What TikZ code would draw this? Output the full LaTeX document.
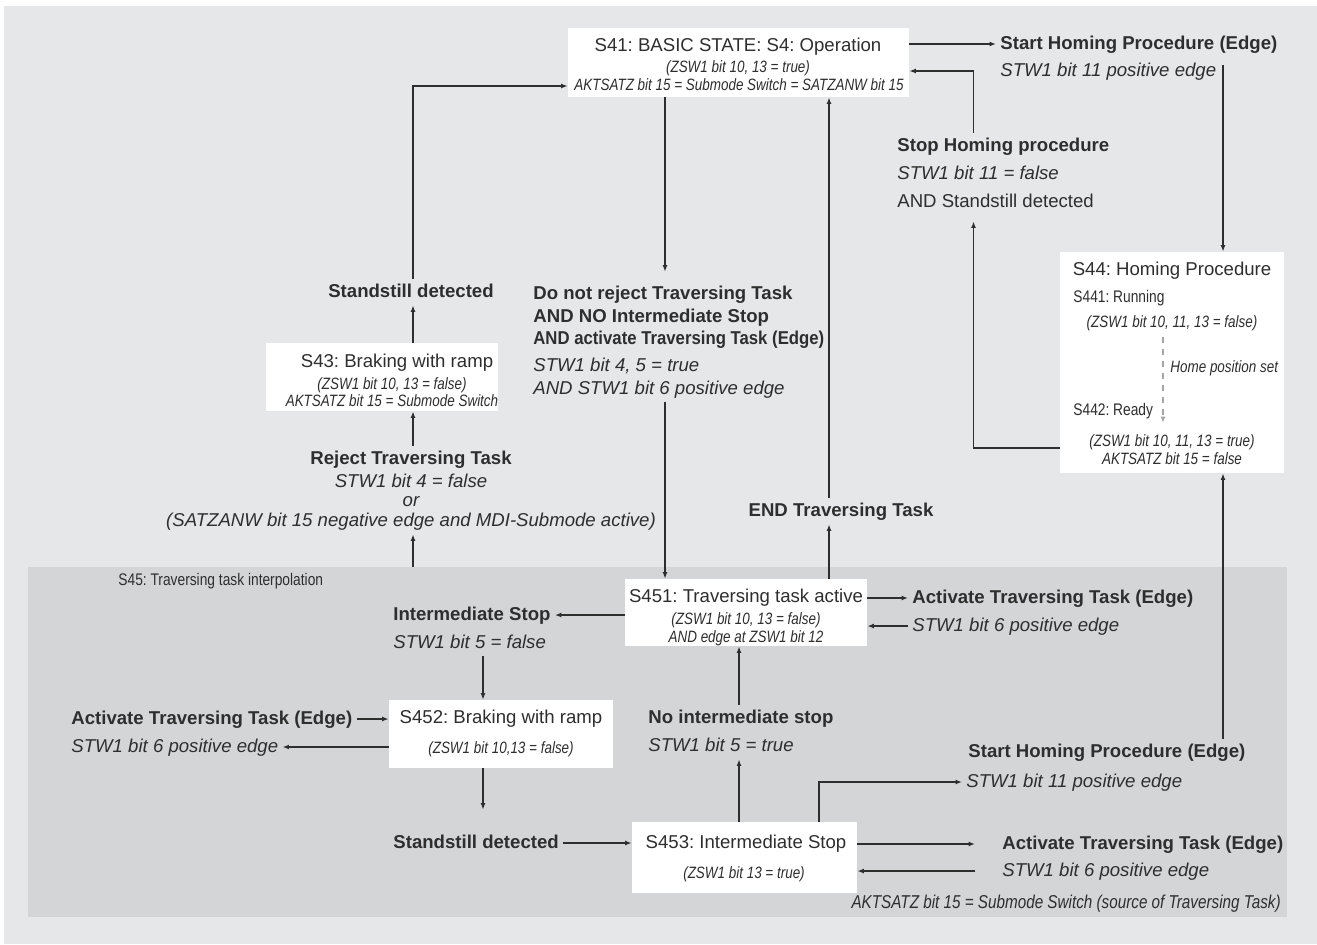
\documentclass[tikz,border=0pt]{standalone}
\usepackage{fontspec}
\setmainfont{Liberation Sans}
\newfontfamily\narrowfont[FakeStretch=0.82]{Liberation Sans}
\newfontfamily\semifont[FakeStretch=0.9]{Liberation Sans}
\usetikzlibrary{arrows.meta}
\definecolor{bgout}{HTML}{E6E7E9}
\definecolor{bgin}{HTML}{D4D5D7}
\definecolor{ink}{HTML}{2E2E2E}
\frenchspacing

\begin{document}
\begin{tikzpicture}[x=0.5pt, y=-0.5pt, >={Latex[length=3.2pt,width=2.4pt]},
  box/.style={fill=white, inner sep=0pt},
  ttl/.style={font=\fontsize{9.3}{11}\selectfont, text=ink, inner sep=2pt},
  lbl/.style={font=\bfseries\fontsize{9.3}{11}\selectfont, text=ink, inner sep=2pt, text height=7pt, text depth=2pt},
  cnd/.style={font=\itshape\fontsize{9.3}{11}\selectfont, text=ink, inner sep=2pt, text height=7pt, text depth=2pt},
  txt/.style={font=\fontsize{9.3}{11}\selectfont, text=ink, inner sep=2pt, text height=7pt, text depth=2pt},
  sml/.style={font=\narrowfont\itshape\fontsize{8.2}{10}\selectfont, text=ink, inner sep=1pt, text height=6pt, text depth=1.6pt},
  nrw/.style={font=\narrowfont\fontsize{8.4}{10}\selectfont, text=ink, inner sep=1pt, text height=6pt, text depth=1.6pt},
  wire/.style={draw=ink, line width=0.6pt},
  dsh/.style={draw=gray!70, line width=0.6pt, dash pattern=on 3pt off 3pt}]
\useasboundingbox (0,0) rectangle (1317,944);
\fill[bgout] (4,6) rectangle (1317,944);
% S45 panel
\node[fill=bgin, inner sep=0pt, minimum width=629.5pt, minimum height=175pt] (s45) at (657.5,742) {};
\node[nrw, anchor=west] (s45t) at (116,581) {S45: Traversing task interpolation};
% column positions of the vertical connectors
\coordinate (cL) at (413,0);
\coordinate (cD) at (665,0);
\coordinate (cU) at (829,0);
\coordinate (cH) at (973.5,0);
\coordinate (cR) at (1223,0);
\coordinate (cS) at (1163,0);
\coordinate (cI) at (483,0);
\coordinate (cN) at (739,0);
\coordinate (cB) at (819,0);
\coordinate (hA) at (1223,65);

% S41
\node[box, minimum width=170.5pt, minimum height=34.5pt] (s41) at (738.5,62.5) {};
\node[ttl] (s41a) at (738,47) {S41: BASIC STATE: S4: Operation};
\node[sml] (s41b) at (738,68) {(ZSW1 bit 10, 13 = true)};
\node[sml] (s41c) at (739,86) {AKTSATZ bit 15 = Submode Switch = SATZANW bit 15};

\node[lbl, anchor=west] (homeA) at (996,44) {Start Homing Procedure (Edge)};
\node[cnd, anchor=west] (homeAc) at (996,71) {STW1 bit 11 positive edge};
\node[lbl, anchor=west] (stopH) at (893,146) {Stop Homing procedure};
\node[cnd, anchor=west] (stopHc) at (893,174) {STW1 bit 11 = false};
\node[txt, anchor=west] (stopHd) at (893,202) {AND Standstill detected};

% S44
\node[box, minimum width=112pt, minimum height=110.5pt] (s44) at (1172,362.5) {};
\node[ttl] (s44a) at (1172,271) {S44: Homing Procedure};
\node[nrw, anchor=west] (s441) at (1071,298) {S441: Running};
\node[sml] (s441c) at (1172,323) {(ZSW1 bit 10, 11, 13 = false)};
\node[sml, anchor=west] (homeset) at (1168,368) {Home position set};
\node[nrw, anchor=west] (s442) at (1071,411) {S442: Ready};
\node[sml] (s442c) at (1172,442) {(ZSW1 bit 10, 11, 13 = true)};
\node[sml] (s442d) at (1172,460) {AKTSATZ bit 15 = false};

% left branch
\node[lbl] (stand1) at (411,292) {Standstill detected};
\node[box, minimum width=116pt, minimum height=34pt] (s43) at (382,377) {};
\node[ttl] (s43a) at (397,363) {S43: Braking with ramp};
\node[sml] (s43b) at (392,385) {(ZSW1 bit 10, 13 = false)};
\node[sml] (s43c) at (392,402) {AKTSATZ bit 15 = Submode Switch};
\node[lbl] (rej1) at (411,459) {Reject Traversing Task};
\node[cnd] (rej2) at (411,482) {STW1 bit 4 = false};
\node[cnd] (rej3) at (411,501) {or};
\node[cnd] (rej4) at (411,521) {(SATZANW bit 15 negative edge and MDI-Submode active)};

% middle branch
\node[lbl, anchor=west] (dn1) at (529,294) {Do not reject Traversing Task};
\node[lbl, anchor=west] (dn2) at (529,317) {AND NO Intermediate Stop};
\node[lbl, font=\semifont\bfseries\fontsize{9.3}{11}\selectfont, anchor=west] (dn3) at (529,339) {AND activate Traversing Task (Edge)};
\node[cnd, anchor=west] (dn4) at (529,366) {STW1 bit 4, 5 = true};
\node[cnd, anchor=west] (dn5) at (529,389) {AND STW1 bit 6 positive edge};
\node[lbl] (endT) at (841,511) {END Traversing Task};

% S451
\node[box, minimum width=121pt, minimum height=33.5pt] (s451) at (746,612.5) {};
\node[ttl] (s451a) at (746,598) {S451: Traversing task active};
\node[sml] (s451b) at (746,620) {(ZSW1 bit 10, 13 = false)};
\node[sml] (s451c) at (746,638) {AND edge at ZSW1 bit 12};
\node[lbl, anchor=west] (act1) at (908,598) {Activate Traversing Task (Edge)};
\node[cnd, anchor=west] (act1c) at (908,626) {STW1 bit 6 positive edge};
\node[lbl, anchor=west] (ist) at (389,615) {Intermediate Stop};
\node[cnd, anchor=west] (istc) at (389,643) {STW1 bit 5 = false};

% S452
\node[box, minimum width=112pt, minimum height=34pt] (s452) at (501,734) {};
\node[ttl] (s452a) at (501,719) {S452: Braking with ramp};
\node[sml] (s452b) at (501,749) {(ZSW1 bit 10,13 = false)};
\node[lbl, anchor=west] (act2) at (67,719) {Activate Traversing Task (Edge)};
\node[cnd, anchor=west] (act2c) at (67,747) {STW1 bit 6 positive edge};
\node[lbl, anchor=west] (stand2) at (389,843) {Standstill detected};
\node[lbl, anchor=west] (nis) at (644,718) {No intermediate stop};
\node[cnd, anchor=west] (nisc) at (644,746) {STW1 bit 5 = true};

% S453
\node[box, minimum width=112.5pt, minimum height=35.5pt] (s453) at (744.5,857.5) {};
\node[ttl] (s453a) at (746,844) {S453: Intermediate Stop};
\node[sml] (s453b) at (744,874) {(ZSW1 bit 13 = true)};
\node[lbl, anchor=west] (homeB) at (964,752) {Start Homing Procedure (Edge)};
\node[cnd, anchor=west] (homeBc) at (962,782) {STW1 bit 11 positive edge};
\node[lbl, anchor=west] (act3) at (998,844) {Activate Traversing Task (Edge)};
\node[cnd, anchor=west] (act3c) at (998,871) {STW1 bit 6 positive edge};
\node[sml, font=\narrowfont\itshape\fontsize{9.3}{11}\selectfont, anchor=east] (note) at (1283,904) {AKTSATZ bit 15 = Submode Switch (source of Traversing Task)};

% transitions
\draw[wire,->] (s41.east |- homeA) -- (homeA.west);
\draw[wire,->] (hA) -- (s44.north -| cR);
\draw[wire,->] (stopH.north -| cH) |- (s41.east |- homeAc);
\draw[wire,->, shorten >=3pt] (s44.west |- 0,448) -| (stopHd.south -| cH);
\draw[wire,->] (stand1.north -| cL) |- (s41.west |- s41c);
\draw[wire,->] (s43.north -| cL) -- (stand1.south -| cL);
\draw[wire,->] (rej1.north -| cL) -- (s43.south -| cL);
\draw[wire,->] (s45.north -| cL) -- (rej4.south -| cL);
\draw[wire,->, shorten >=4.5pt] (s41.south -| cD) -- (dn1.north -| cD);
\draw[wire,->] (dn5.south -| cD) -- (s451.north -| cD);
\draw[wire,->] (endT.north -| cU) -- (s41.south -| cU);
\draw[wire,->] (s451.north -| cU) -- (endT.south -| cU);
\draw[wire,->] (s451.east |- act1) -- (act1.west);
\draw[wire,->] (act1c.west) -- (s451.east |- act1c);
\draw[wire,->] (s451.west |- ist) -- (ist.east);
\draw[wire,->] (istc.south -| cI) -- (s452.north -| cI);
\draw[wire,->] (act2.east) -- (s452.west |- act2);
\draw[wire,->] (s452.west |- act2c) -- (act2c.east);
\draw[wire,->, shorten >=10pt] (s452.south -| cI) -- (stand2.north -| cI);
\draw[wire,->] (stand2.east) -- (s453.west |- stand2);
\draw[wire,->] (s453.north -| cN) -- (nisc.south -| cN);
\draw[wire,->] (nis.north -| cN) -- (s451.south -| cN);
\draw[wire,->] (s453.north -| cB) |- (homeBc.west);
\draw[wire,->] (homeB.north -| cR) -- (s44.south -| cR);
\draw[wire,->, shorten >=11.5pt] (s453.east |- act3) -- (act3.west);
\draw[wire,->, shorten <=11.5pt] (act3c.west) -- (s453.east |- act3c);
\draw[dsh,->, shorten <=2pt, shorten >=4.5pt] (s441c.south -| cS) -- (s442c.north -| cS);
\end{tikzpicture}
\end{document}
